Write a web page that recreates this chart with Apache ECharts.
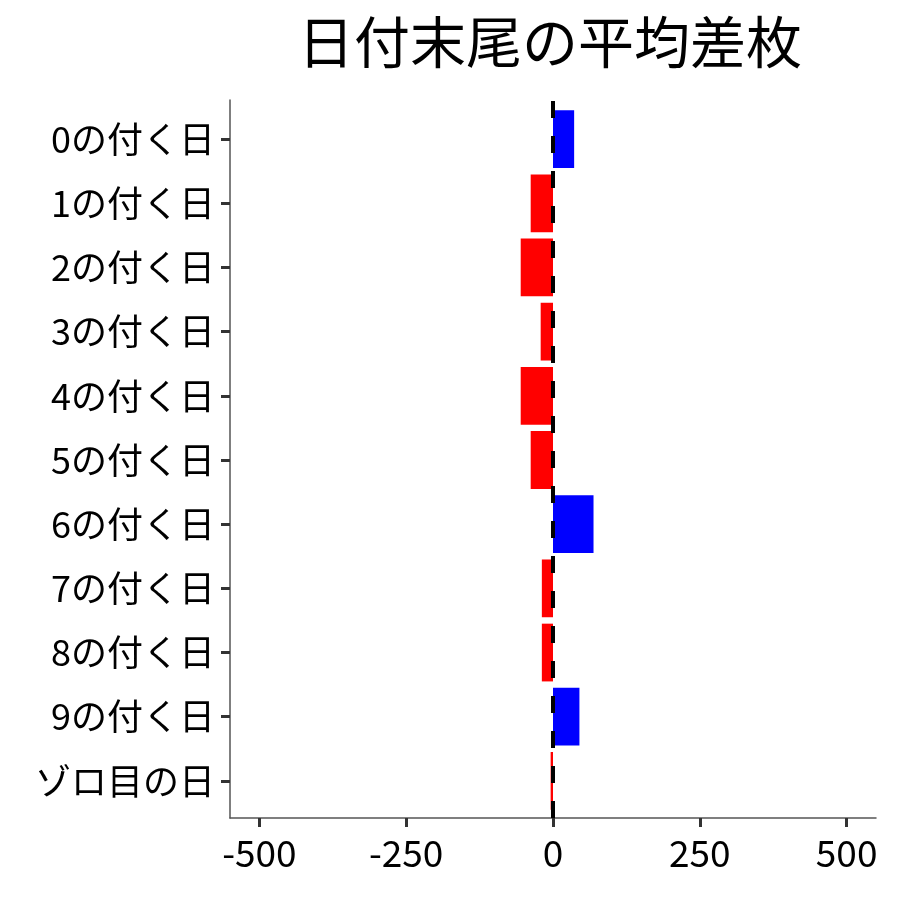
<!DOCTYPE html>
<html><head><meta charset="utf-8">
<script src="https://cdn.jsdelivr.net/npm/echarts@6/dist/echarts.min.js"></script>
<style>html,body{margin:0;padding:0;background:#fff}#c{width:900px;height:900px}</style>
</head><body><div id="c"></div>
<script>
const categories = ["0の付く日","1の付く日","2の付く日","3の付く日","4の付く日","5の付く日","6の付く日","7の付く日","8の付く日","9の付く日","ゾロ目の日"];
const values = [36, -38, -55, -21, -55, -38, 69, -19, -19, 45, -4];
const xTicks = [-500, -250, 0, 250, 500];
const titleText = "日付末尾の平均差枚";

const FONT = '"Noto Sans CJK JP", "Noto Sans", sans-serif';
const chart = echarts.init(document.getElementById('c'));
chart.setOption({
  animation: false,
  backgroundColor: '#fff',
  title: { text: titleText, left: 545, top: 9, textAlign: 'center',
    textStyle: { fontFamily: FONT, fontSize: 56, fontWeight: 'normal', color: '#000' } },
  grid: [
    { left: 230, right: 24, top: 107, bottom: 87 },
    { left: 230, right: 24, top: 100, bottom: 82 }
  ],
  xAxis: [
    { gridIndex: 0, type: 'value', min: -550, max: 550, show: false, splitLine: {show:false} },
    { gridIndex: 1, type: 'value', min: -550, max: 550,
      axisLine: { show: true, onZero: false, lineStyle: { color: '#555', width: 1.5 } },
      axisTick: { show: true, length: 9, lineStyle: { color: '#333', width: 3 },
        customValues: xTicks },
      axisLabel: { color: '#000', fontFamily: FONT, fontSize: 37, margin: 16,
        customValues: xTicks },
      splitLine: { show: false } }
  ],
  yAxis: [
    { gridIndex: 0, type: 'category', data: categories, inverse: true,
      axisLine: { show: false, onZero: false },
      axisTick: { show: true, alignWithLabel: true, length: 9, lineStyle: { color: '#333', width: 3 } },
      axisLabel: { color: '#000', fontFamily: FONT, fontSize: 36, margin: 15 },
      splitLine: { show: false } },
    { gridIndex: 1, type: 'value', min: 0, max: 1,
      axisLine: { show: true, onZero: false, lineStyle: { color: '#555', width: 1.5 } },
      axisTick: { show: false }, axisLabel: { show: false }, splitLine: { show: false } }
  ],
  series: [
    { type: 'bar', xAxisIndex: 0, yAxisIndex: 0, barWidth: '90%',
      data: values.map(v => ({ value: v, itemStyle: { color: v >= 0 ? '#0000FF' : '#FF0000' } })) },
    { type: 'line', xAxisIndex: 1, yAxisIndex: 1, data: [], symbol: 'none',
      markLine: { silent: true, symbol: 'none', label: { show: false },
        lineStyle: { color: '#000', width: 4, type: [17, 18] },
        data: [ { xAxis: 0 } ] } }
  ]
});
</script></body></html>
